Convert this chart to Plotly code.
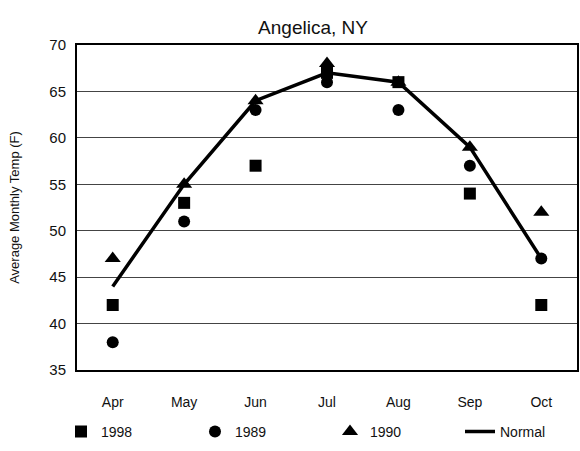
import plotly.graph_objects as go

months = ["Apr", "May", "Jun", "Jul", "Aug", "Sep", "Oct"]
y1998 = [42, 53, 57, 67, 66, 54, 42]
y1989 = [38, 51, 63, 66, 63, 57, 47]
y1990 = [47, 55, 64, 68, 66, 59, 52]
normal = [44, 55, 64, 67, 66, 59, 47]
yticks = [35, 40, 45, 50, 55, 60, 65, 70]

L, R, T, B = 77, 3, 45, 75
W, H = 580, 451
PW = W - L - R
PH = H - T - B


def px2paper(x):
    return (x - L) / PW


fig = go.Figure()
fig.add_trace(go.Scatter(x=months, y=normal, mode="lines", name="Normal",
                         line=dict(color="black", width=3.5), legend="legend4"))
fig.add_trace(go.Scatter(x=months, y=y1998, mode="markers", name="1998",
                         marker=dict(symbol="square", size=12, color="black"), legend="legend"))
fig.add_trace(go.Scatter(x=months, y=y1989, mode="markers", name="1989",
                         marker=dict(symbol="circle", size=12, color="black"), legend="legend2"))
fig.add_trace(go.Scatter(x=months, y=y1990, mode="markers", name="1990",
                         marker=dict(symbol="triangle-up", size=14, color="black"), legend="legend3"))

legy = -(439 - (H - B)) / PH
common = dict(orientation="h", xanchor="left", y=legy, yanchor="middle",
              font=dict(size=14, color="#111"), bgcolor="rgba(0,0,0,0)",
              borderwidth=0, itemwidth=30)

fig.update_layout(
    width=W, height=H, autosize=False,
    margin=dict(l=L, r=R, t=T, b=B),
    paper_bgcolor="white", plot_bgcolor="white",
    font=dict(family="Liberation Sans, Arial, sans-serif", size=14, color="#111"),
    title=dict(text="Angelica, NY", x=313 / W, xanchor="center", y=1 - 27 / H,
               yanchor="middle", yref="container", font=dict(size=19, color="#111")),
    showlegend=True,
    legend=dict(x=px2paper(61), **common),
    legend2=dict(x=px2paper(195), **common),
    legend3=dict(x=px2paper(330), **common),
    legend4=dict(x=px2paper(460), **common),
    xaxis=dict(type="category", categoryorder="array", categoryarray=months,
               range=[-0.5, 6.5], showgrid=False, showline=True, linecolor="black",
               linewidth=2, mirror=True, ticks="", ticklabelstandoff=18,
               tickfont=dict(size=14), automargin=False),
    yaxis=dict(range=[35, 70], tickvals=yticks, showgrid=True, gridcolor="#444",
               gridwidth=1.2, showline=True, linecolor="black", linewidth=2,
               mirror=True, ticks="", ticklabelstandoff=6, zeroline=False,
               title=dict(text="Average Monthly Temp (F)", font=dict(size=13), standoff=27),
               tickfont=dict(size=15), automargin=False),
)

fig.write_html("out.html", config={"displayModeBar": False, "responsive": False},
               post_script="document.body.style.margin='0';")
